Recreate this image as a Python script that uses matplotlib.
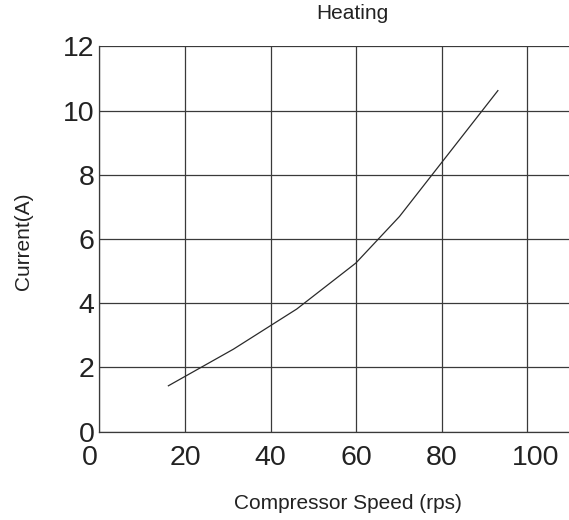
import matplotlib
matplotlib.use("Agg")
import matplotlib.pyplot as plt
import matplotlib.transforms as mtransforms

plt.rcParams['font.family'] = ['Liberation Sans', 'DejaVu Sans']

# compressor speed (rps) vs current (A), heating mode
speed = [16.1, 31.3, 46.1, 59.9, 70.1, 93.1]
current = [1.43, 2.57, 3.82, 5.25, 6.70, 10.62]

xticks = [0, 20, 40, 60, 80, 100]
yticks = [0, 2, 4, 6, 8, 10, 12]

W, H = 569, 520
fig = plt.figure(figsize=(W / 100, H / 100), dpi=100)

# axes box in pixels: left 99.5, bottom 431.7, top 46.3, running off the right edge
ax = fig.add_axes([99.5 / W, 1 - 431.7 / H, 1 - 99.5 / W, (431.7 - 46.3) / H])
ax.set_xlim(0, (W - 99.5) / 4.279)
ax.set_ylim(0, 12)

gc = '#3a3a3a'
ax.set_xticks(xticks)
ax.set_yticks(yticks)
ax.grid(True, color=gc, linewidth=0.9)
ax.set_axisbelow(True)
ax.plot(speed, current, color='#2a2a2a', linewidth=0.9)

for s in ['top', 'right']:
    ax.spines[s].set_visible(False)
for s in ['left', 'bottom']:
    ax.spines[s].set_color(gc)
    ax.spines[s].set_linewidth(0.9)

ax.tick_params(axis='both', length=0, labelsize=20.5, colors='#222222')
ax.tick_params(axis='y', pad=3.5)
ax.tick_params(axis='x', pad=9.5)

# nudge the first and last x labels like the source
labs = ax.get_xticklabels()
labs[0].set_transform(labs[0].get_transform() +
                      mtransforms.ScaledTranslation(-10 / 100, 0, fig.dpi_scale_trans))
labs[-1].set_transform(labs[-1].get_transform() +
                       mtransforms.ScaledTranslation(8 / 100, 0, fig.dpi_scale_trans))

fig.text(352 / W, 1 - 19.3 / H, 'Heating', ha='center', va='baseline',
         fontsize=15, color='#222222')
fig.text(348 / W, 1 - 509.3 / H, 'Compressor Speed (rps)', ha='center',
         va='baseline', fontsize=15, color='#222222')
fig.text(24 / W, 1 - 241.7 / H, 'Current(A)', ha='center', va='center',
         rotation=90, fontsize=15, color='#222222')

fig.savefig('out.png', dpi=100)
